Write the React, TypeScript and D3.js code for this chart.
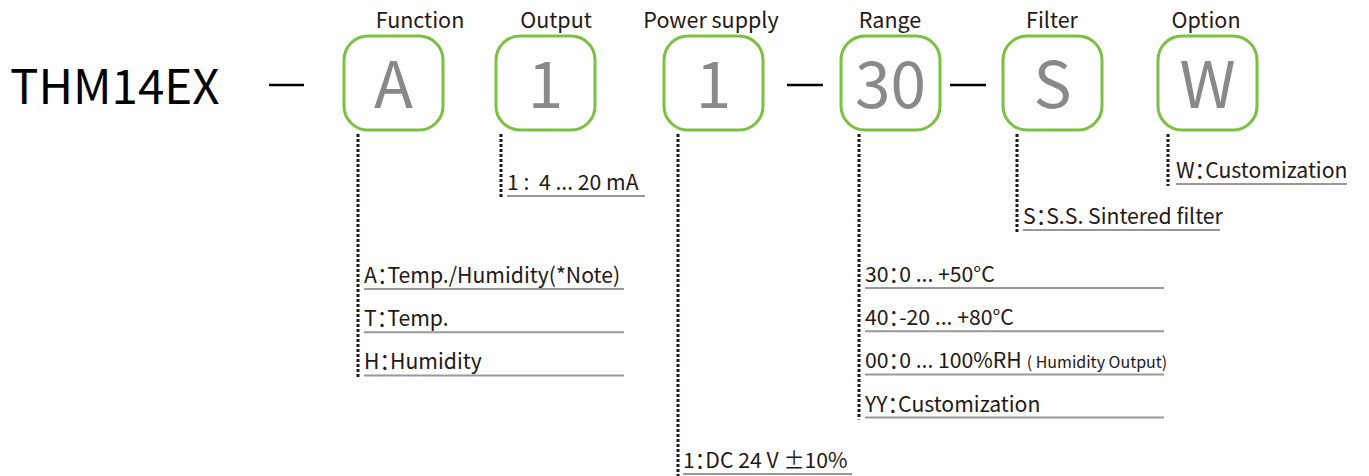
import React from 'react';
import * as d3 from 'd3';

// Ordering code segments
const model = 'THM14EX';
const codes = ['A', '1', '1', '30', 'S', 'W'];
const titles = ['Function', 'Output', 'Power supply', 'Range', 'Filter', 'Option'];

// option rows per segment: [code, description]
const functionOptions = [['A', 'Temp./Humidity(*Note)'], ['T', 'Temp.'], ['H', 'Humidity']];
const outputOptions = [['1', '4 ... 20 mA']];
const powerOptions = [['1', 'DC 24 V ±10%']];
const rangeOptions = [['30', '0 ... +50°C'], ['40', '-20 ... +80°C'], ['00', '0 ... 100%RH'], ['YY', 'Customization']];
const filterOptions = [['S', 'S.S. Sintered filter']];
const optionOptions = [['W', 'Customization']];
const optionLists = [functionOptions, outputOptions, powerOptions, rangeOptions, filterOptions, optionOptions];
const rangeNotes: Record<string, string> = { '00': '( Humidity Output)' };

// layout (pixels)
const W = 1369;
const H = 476;
const boxLeft = [344, 496, 664, 841, 1003, 1158];
const titleCenter = [420, 556, 711, 890, 1052, 1206];
const leaderX = [358, 501, 678, 859, 1017, 1168];
const textGap = [6, 6, 5, 6, 6, 8];
const firstRowY = [289, 196, 474, 288, 230, 184]; // underline y of first row
const underlineEnd = [624, 645, 852, 1164, 1220, 1347];
const dashes = [[269, 304], [787, 823], [950, 986]];
const BOX_W = 99;
const BOX_H = 94;
const BOX_Y = 36;
const ROW_STEP = 43.2;

const GREEN = '#7ac142';
const INK = '#231815';
const FONT = '"Noto Sans CJK SC", "Noto Sans", sans-serif';

export default function App() {
  const rowY = (seg: number) =>
    d3.scaleLinear().domain([0, 1]).range([firstRowY[seg], firstRowY[seg] + ROW_STEP]);

  return (
    <svg width={W} height={H} style={{ position: 'absolute', left: 0, top: 0 }} fontFamily={FONT}>
      <rect width={W} height={H} fill="#fff" />
      <text x={10} y={104} fontSize={47.5} fill="#000">{model}</text>
      {dashes.map(([a, b], i) => (
        <line key={i} x1={a} x2={b} y1={85} y2={85} stroke="#000" strokeWidth={2.6} />
      ))}
      {codes.map((c, i) => {
        const x = boxLeft[i];
        const cx = x + BOX_W / 2;
        const opts = optionLists[i];
        const sy = rowY(i);
        const lineX = leaderX[i];
        const textX = lineX + textGap[i];
        const lastY = sy(opts.length - 1);
        return (
          <g key={i}>
            <text x={titleCenter[i]} y={28} textAnchor="middle" fontSize={21.5} fill={INK}>{titles[i]}</text>
            <rect x={x} y={BOX_Y} width={BOX_W} height={BOX_H} rx={24} ry={24} fill="none" stroke={GREEN} strokeWidth={3} />
            <text x={cx} y={108} textAnchor="middle" fontSize={64} fill="#898989">{c}</text>
            <line x1={lineX} x2={lineX} y1={134} y2={lastY + 2} stroke={INK} strokeWidth={3} strokeDasharray="3 2" />
            {opts.map(([k, d], j) => {
              const y = sy(j);
              return (
                <g key={j}>
                  <text x={textX} y={y - 6} fontSize={21.2} fill={INK} style={{ fontFeatureSettings: '"halt"', whiteSpace: 'pre' }}>
                    {i === 1 ? `${k} :  ${d}` : <>{k}<tspan>：</tspan>{d}</>}
                    {rangeNotes[k] && i === 3 ? <tspan fontSize={16} dx={5}>{rangeNotes[k]}</tspan> : null}
                  </text>
                  <line x1={textX} x2={underlineEnd[i]} y1={y} y2={y} stroke="#999" strokeWidth={2} />
                </g>
              );
            })}
          </g>
        );
      })}
    </svg>
  );
}
